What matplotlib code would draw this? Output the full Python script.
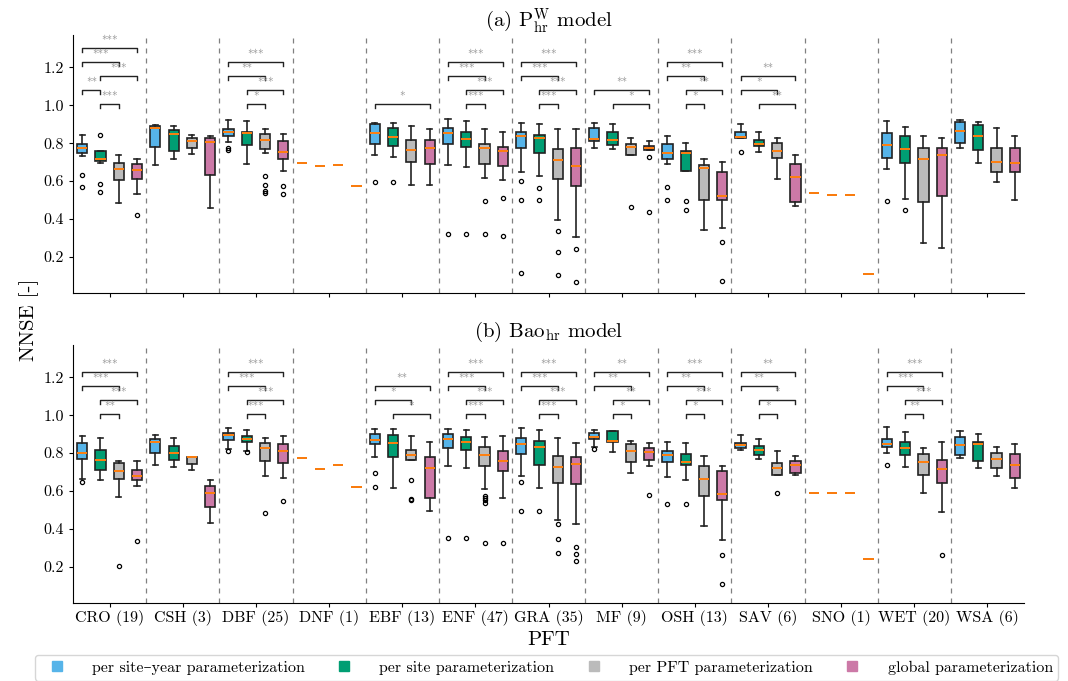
import matplotlib.pyplot as plt
from matplotlib.lines import Line2D

plt.rcParams['font.family'] = ['cmr10', 'DejaVu Serif']
plt.rcParams['mathtext.fontset'] = 'cm'
plt.rcParams['axes.unicode_minus'] = False
plt.rcParams['axes.formatter.use_mathtext'] = True

pft = ["CRO (19)", "CSH (3)", "DBF (25)", "DNF (1)", "EBF (13)", "ENF (47)", "GRA (35)",
       "MF (9)", "OSH (13)", "SAV (6)", "SNO (1)", "WET (20)", "WSA (6)"]
labels = ["per site\u2013year parameterization", "per site parameterization",
          "per PFT parameterization", "global parameterization"]
colors = ["#56B4E9", "#009E73", "#BBBBBB", "#CC79A7"]

# (a) P_hr^W : [whislo, q1, med, q3, whishi] per PFT
a_siteyear = [[0.732, 0.749, 0.775, 0.798, 0.844], [0.684, 0.782, 0.882, 0.891, 0.895],
              [0.805, 0.839, 0.858, 0.875, 0.921], [0.698] * 5,
              [0.740, 0.798, 0.856, 0.902, 0.907], [0.686, 0.793, 0.854, 0.882, 0.925],
              [0.647, 0.772, 0.840, 0.861, 0.905], [0.774, 0.812, 0.823, 0.881, 0.907],
              [0.688, 0.718, 0.746, 0.798, 0.839], [0.826, 0.826, 0.830, 0.860, 0.902],
              [0.539] * 5, [0.663, 0.723, 0.791, 0.851, 0.916],
              [0.772, 0.800, 0.863, 0.909, 0.923]]
a_site = [[0.693, 0.705, 0.718, 0.758, 0.760], [0.718, 0.756, 0.846, 0.868, 0.891],
          [0.689, 0.789, 0.853, 0.861, 0.918], [0.682] * 5,
          [0.728, 0.786, 0.833, 0.882, 0.907], [0.674, 0.779, 0.823, 0.860, 0.919],
          [0.626, 0.747, 0.825, 0.842, 0.902], [0.770, 0.788, 0.814, 0.861, 0.902],
          [0.654, 0.654, 0.747, 0.758, 0.803], [0.754, 0.784, 0.798, 0.814, 0.858],
          [0.528] * 5, [0.507, 0.696, 0.770, 0.837, 0.886],
          [0.696, 0.765, 0.840, 0.895, 0.910]]
a_pft = [[0.484, 0.604, 0.665, 0.693, 0.740], [0.742, 0.777, 0.812, 0.828, 0.842],
         [0.747, 0.768, 0.816, 0.846, 0.872], [0.684] * 5,
         [0.582, 0.702, 0.763, 0.819, 0.893], [0.617, 0.688, 0.772, 0.796, 0.872],
         [0.393, 0.610, 0.709, 0.768, 0.872], [0.740, 0.740, 0.782, 0.798, 0.826],
         [0.344, 0.500, 0.668, 0.686, 0.719], [0.610, 0.721, 0.760, 0.802, 0.828],
         [0.528] * 5, [0.272, 0.489, 0.719, 0.772, 0.839],
         [0.595, 0.646, 0.703, 0.777, 0.879]]
a_global = [[0.533, 0.611, 0.658, 0.688, 0.719], [0.458, 0.632, 0.805, 0.825, 0.839],
            [0.651, 0.714, 0.753, 0.809, 0.846], [0.575] * 5,
            [0.577, 0.691, 0.772, 0.814, 0.874], [0.604, 0.681, 0.761, 0.781, 0.861],
            [0.305, 0.574, 0.679, 0.774, 0.877], [0.763, 0.763, 0.774, 0.784, 0.809],
            [0.354, 0.500, 0.523, 0.646, 0.702], [0.470, 0.491, 0.619, 0.691, 0.737],
            [0.111] * 5, [0.246, 0.521, 0.735, 0.772, 0.828],
            [0.502, 0.647, 0.693, 0.777, 0.837]]

a_siteyear_fl = [[0.630, 0.570], [], [0.777, 0.763], [], [0.596], [0.319],
                 [0.600, 0.502, 0.116], [], [0.570, 0.498], [0.753], [], [0.496], []]
a_site_fl = [[0.842, 0.584, 0.542], [], [], [], [0.596], [0.319], [0.563, 0.500],
             [], [0.496, 0.449], [], [], [0.449], []]
a_pft_fl = [[], [], [0.628, 0.577, 0.549, 0.535], [], [], [0.493, 0.319],
            [0.337, 0.225, 0.107], [0.465], [], [], [], [], []]
a_global_fl = [[0.423], [], [0.574, 0.532], [], [], [0.512, 0.309], [0.242, 0.068],
               [0.728, 0.437], [0.277, 0.072], [], [], [], []]

# (b) Bao_hr
b_siteyear = [[0.663, 0.771, 0.799, 0.852, 0.889], [0.739, 0.799, 0.857, 0.876, 0.897],
              [0.822, 0.869, 0.894, 0.904, 0.933], [0.772] * 5,
              [0.778, 0.848, 0.869, 0.903, 0.929], [0.732, 0.829, 0.873, 0.899, 0.927],
              [0.681, 0.795, 0.846, 0.878, 0.933], [0.834, 0.874, 0.885, 0.908, 0.922],
              [0.676, 0.751, 0.790, 0.811, 0.857], [0.818, 0.827, 0.845, 0.855, 0.894],
              [0.591] * 5, [0.801, 0.831, 0.848, 0.873, 0.938],
              [0.774, 0.788, 0.845, 0.883, 0.917]]
b_site = [[0.658, 0.711, 0.764, 0.818, 0.878], [0.727, 0.762, 0.799, 0.838, 0.878],
          [0.809, 0.859, 0.874, 0.892, 0.922], [0.714] * 5,
          [0.616, 0.778, 0.852, 0.896, 0.927], [0.721, 0.818, 0.857, 0.887, 0.924],
          [0.617, 0.737, 0.830, 0.864, 0.924], [0.804, 0.860, 0.866, 0.915, 0.918],
          [0.658, 0.735, 0.753, 0.794, 0.853], [0.769, 0.790, 0.818, 0.839, 0.873],
          [0.588] * 5, [0.725, 0.792, 0.827, 0.859, 0.911],
          [0.723, 0.758, 0.846, 0.859, 0.899]]
b_pft = [[0.570, 0.665, 0.707, 0.748, 0.757], [0.711, 0.742, 0.778, 0.778, 0.779],
         [0.681, 0.757, 0.825, 0.855, 0.878], [0.735] * 5,
         [0.762, 0.762, 0.792, 0.816, 0.889], [0.609, 0.734, 0.790, 0.830, 0.883],
         [0.450, 0.642, 0.728, 0.785, 0.882], [0.695, 0.751, 0.811, 0.846, 0.866],
         [0.418, 0.572, 0.663, 0.730, 0.785], [0.684, 0.684, 0.720, 0.749, 0.809],
         [0.591] * 5, [0.588, 0.684, 0.751, 0.797, 0.827],
         [0.677, 0.723, 0.771, 0.802, 0.830]]
b_global = [[0.626, 0.661, 0.679, 0.709, 0.757], [0.433, 0.514, 0.589, 0.626, 0.660],
            [0.669, 0.750, 0.809, 0.848, 0.890], [0.619] * 5,
            [0.494, 0.561, 0.721, 0.778, 0.860], [0.563, 0.705, 0.758, 0.809, 0.889],
            [0.427, 0.637, 0.742, 0.778, 0.852], [0.732, 0.762, 0.806, 0.827, 0.852],
            [0.343, 0.551, 0.586, 0.705, 0.730], [0.684, 0.697, 0.735, 0.757, 0.787],
            [0.243] * 5, [0.489, 0.642, 0.714, 0.765, 0.857],
            [0.614, 0.667, 0.737, 0.795, 0.850]]

b_siteyear_fl = [[0.649], [], [0.813], [], [0.697, 0.619], [0.355], [0.649, 0.496],
                 [0.822], [0.531], [], [], [0.735], []]
b_site_fl = [[], [], [0.804], [], [], [0.352], [0.494], [], [0.531], [], [], [], []]
b_pft_fl = [[0.204], [], [0.482], [], [0.656, 0.556, 0.551],
            [0.575, 0.563, 0.551, 0.538, 0.324], [0.427, 0.350, 0.272], [], [],
            [0.589], [], [], []]
b_global_fl = [[0.339], [], [0.547], [], [], [0.325], [0.306, 0.271, 0.232], [0.577],
               [0.265, 0.110], [], [], [0.264], []]

# significance brackets (box a, box b, stars), listed from lowest to highest
all4 = [(2, 3, '***'), (2, 4, '***'), (1, 3, '***'), (1, 4, '***')]
a_sig = [[(2, 3, '***'), (1, 2, '**'), (2, 4, '***'), (1, 3, '***'), (1, 4, '***')], [],
         [(2, 3, '*'), (2, 4, '***'), (1, 3, '**'), (1, 4, '***')], [],
         [(1, 4, '*')], all4, all4,
         [(2, 4, '*'), (1, 4, '**')],
         [(2, 3, '*'), (2, 4, '**'), (1, 3, '**'), (1, 4, '***')],
         [(2, 4, '**'), (1, 3, '*'), (1, 4, '**')], [], [], []]
b_sig = [[(2, 3, '**'), (2, 4, '***'), (1, 3, '***'), (1, 4, '***')], [], all4, [],
         [(2, 4, '*'), (1, 3, '*'), (1, 4, '**')], all4, all4,
         [(2, 3, '*'), (2, 4, '**'), (1, 3, '**'), (1, 4, '**')],
         [(2, 3, '*'), (2, 4, '***'), (1, 3, '**'), (1, 4, '***')],
         [(2, 3, '*'), (2, 4, '*'), (1, 3, '**'), (1, 4, '**')], [],
         [(2, 3, '**'), (2, 4, '***'), (1, 3, '***'), (1, 4, '***')], []]

offsets = [-0.375, -0.125, 0.125, 0.375]


def draw_panel(ax, series, fliers, sig, title):
    for k in range(4):
        stats = []
        for i in range(len(pft)):
            lo, q1, med, q3, hi = series[k][i]
            stats.append(dict(whislo=lo, q1=q1, med=med, q3=q3, whishi=hi,
                              fliers=fliers[k][i]))
        pos = [i + offsets[k] for i in range(len(pft))]
        ax.bxp(stats, positions=pos, widths=0.14, patch_artist=True, manage_ticks=False,
               boxprops=dict(facecolor=colors[k], edgecolor='#222222', linewidth=1.2),
               whiskerprops=dict(color='#222222', linewidth=1.2),
               capprops=dict(color='#222222', linewidth=1.2),
               medianprops=dict(color='#ff7f0e', linewidth=1.4),
               flierprops=dict(marker='o', markersize=3, markerfacecolor='none',
                               markeredgecolor='k', markeredgewidth=0.9))
    for i in range(len(pft) - 1):
        ax.axvline(i + 0.5, color='0.5', linestyle=(0, (4, 4)), linewidth=0.9)
    for i, brackets in enumerate(sig):
        for lev, (a, b, s) in enumerate(brackets):
            y = 1.005 + 0.074 * lev
            xa = i + offsets[a - 1]
            xb = i + offsets[b - 1]
            ax.plot([xa, xa, xb, xb], [y - 0.02, y, y, y - 0.02], color='#222222', lw=1)
            ax.text((xa + xb) / 2, y + 0.008, s, color='0.55', fontsize=8,
                    ha='center', va='bottom')
    ax.set_xlim(-0.5, len(pft) - 0.5)
    ax.set_ylim(0.01, 1.37)
    ax.set_yticks([0.2, 0.4, 0.6, 0.8, 1.0, 1.2])
    ax.set_yticklabels(["0.2", "0.4", "0.6", "0.8", "1.0", "1.2"])
    ax.set_xticks(range(len(pft)))
    ax.tick_params(labelsize=11.5, length=3)
    ax.spines['top'].set_visible(False)
    ax.spines['right'].set_visible(False)
    ax.set_title(title, fontsize=15, pad=6)


fig = plt.figure(figsize=(10.68, 6.81), dpi=100)
ax1 = fig.add_axes([0.0684, 0.5697, 0.8904, 0.3789])
ax2 = fig.add_axes([0.0684, 0.1145, 0.8904, 0.3789])

draw_panel(ax1, [a_siteyear, a_site, a_pft, a_global],
           [a_siteyear_fl, a_site_fl, a_pft_fl, a_global_fl], a_sig,
           r"(a) $\mathrm{P}_{\mathrm{hr}}^{\mathrm{W}}$ model")
draw_panel(ax2, [b_siteyear, b_site, b_pft, b_global],
           [b_siteyear_fl, b_site_fl, b_pft_fl, b_global_fl], b_sig,
           r"(b) Bao$_{\mathrm{hr}}$ model")

ax1.set_xticklabels([])
ax2.set_xticklabels(pft)
ax2.tick_params(axis='x', pad=2)
ax2.set_xlabel("PFT", fontsize=15, labelpad=4)
fig.text(0.027, 0.53, "NNSE [-]", rotation=90, fontsize=15, ha='center', va='center')

handles = [Line2D([], [], marker='s', linestyle='none', markersize=7,
                  markerfacecolor=c, markeredgecolor=c) for c in colors]
fig.legend(handles, labels, loc='upper left', ncol=4, mode='expand',
           bbox_to_anchor=(0.033, 0.038, 0.958, 0.0), fontsize=11.5,
           handletextpad=1.2, borderpad=0.35, borderaxespad=0.0, edgecolor='0.8')

fig.savefig("out.png", dpi=100)
